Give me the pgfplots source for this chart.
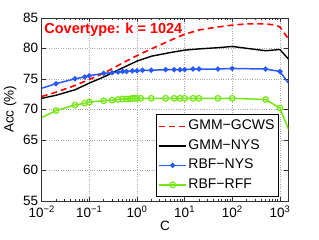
\documentclass[border=0pt]{standalone}
\usepackage{fontspec}
\setmainfont{Liberation Sans}
\usepackage{pgfplots}
\pgfplotsset{compat=1.18}
\definecolor{myblue}{RGB}{40,90,250}
\definecolor{mygreen}{RGB}{115,230,20}
\begin{document}
\begin{tikzpicture}
\begin{axis}[
  scale only axis, width=246.6bp, height=183bp,
  xmode=log, xmin=0.01, xmax=1500, ymin=55, ymax=85,
  xtick={0.01,0.1,1,10,100,1000},
  xticklabels={10\textsuperscript{−2},10\textsuperscript{−1},10\textsuperscript{0},10\textsuperscript{1},10\textsuperscript{2},10\textsuperscript{3}},
  minor xtick={0.02,0.03,0.04,0.05,0.06,0.07,0.08,0.09,0.2,0.3,0.4,0.5,0.6,0.7,0.8,0.9,2,3,4,5,6,7,8,9,20,30,40,50,60,70,80,90,200,300,400,500,600,700,800,900},
  ytick={55,60,65,70,75,80,85},
  /pgf/number format/assume math mode=true,
  tick align=inside, xtick pos=both, ytick pos=both,
  major tick length=4bp, minor tick length=2bp,
  axis line style={draw=black!80, line width=0.6bp},
  every tick/.style={black!80, line width=0.5bp},
  grid=major, major grid style={dotted, gray!70, line width=0.5bp},
  tick label style={font=\fontsize{13.5bp}{14bp}\selectfont},
  xticklabel style={yshift=-1.5bp},
  label style={font=\fontsize{13.5bp}{14bp}\selectfont},
  xlabel={C}, ylabel={Acc (\%)},
  xlabel style={yshift=4bp},
  legend style={at={(0.9594,0.0224)}, anchor=south east, draw=black, line width=0.7bp, fill=white,
    inner xsep=2bp, inner ysep=5bp, row sep=6.5bp,
    nodes={inner xsep=1.5bp, inner ysep=0bp, text height=10bp, text depth=3bp},
    font=\fontsize{14bp}{15bp}\selectfont},
  legend cell align=left,
  legend image code/.code={\draw[mark repeat=2,mark phase=2,#1] plot coordinates {(0bp,0bp) (13.5bp,0bp) (27bp,0bp)};},
]
\addplot[red, dash pattern=on 6bp off 4bp, line width=1.6bp] coordinates {
(0.01,72.1) (0.02,72.8) (0.05,73.9) (0.1,74.9) (0.2,75.9) (0.5,77.6) (1,78.8) (2,79.9) (5,81.3) (10,82.3) (20,83.0) (50,83.5) (100,83.8) (200,84.0) (500,84.0) (800,83.8) (1000,83.5) (2000,80.2)};
\addlegendentry{GMM−GCWS}
\addplot[black, line width=1.4bp] coordinates {
(0.01,71.8) (0.02,72.3) (0.05,73.2) (0.1,74.3) (0.2,75.3) (0.5,76.8) (1,77.9) (2,78.7) (5,79.3) (10,79.7) (20,79.9) (50,80.1) (100,80.3) (500,79.6) (1000,79.8) (2000,77.2)};
\addlegendentry{GMM−NYS}
\addplot[myblue, line width=1.5bp, mark=*, mark size=1.8bp] coordinates {
(0.005,72.7) (0.02,74.2) (0.05,75.0) (0.08,75.3) (0.1,75.5) (0.2,75.9) (0.3,76.0) (0.4,76.1) (0.5,76.2) (0.6,76.2) (0.8,76.3) (1,76.3) (1.3,76.4) (2,76.4) (4,76.5) (6,76.5) (8,76.5) (10,76.5) (15,76.6) (20,76.6) (50,76.6) (100,76.7) (500,76.6) (1000,76.2) (2000,73.0)};
\addlegendentry{RBF−NYS}
\addplot[mygreen, line width=1.5bp, mark=o, mark size=2.8bp, mark options={line width=1.2bp}] coordinates {
(0.005,67.5) (0.02,69.8) (0.05,70.7) (0.08,71.0) (0.1,71.2) (0.2,71.4) (0.3,71.5) (0.4,71.6) (0.5,71.7) (0.6,71.7) (0.7,71.7) (0.8,71.8) (0.9,71.8) (1,71.8) (1.2,71.8) (2,71.8) (4,71.8) (6,71.8) (8,71.8) (10,71.8) (15,71.8) (20,71.8) (50,71.8) (100,71.8) (500,71.6) (1000,70.2) (2000,64.4)};
\addlegendentry{RBF−RFF}
\node[anchor=west, text=red, font=\bfseries\fontsize{14.5bp}{15bp}\selectfont, inner sep=0pt] at (rel axis cs:0.01,0.936) {Covertype: k = 1024};
\end{axis}
\path ([shift={(-41.7bp,-39.2bp)}]current axis.south west) rectangle ([shift={(30.7bp,17.8bp)}]current axis.north east);
\end{tikzpicture}
\end{document}
